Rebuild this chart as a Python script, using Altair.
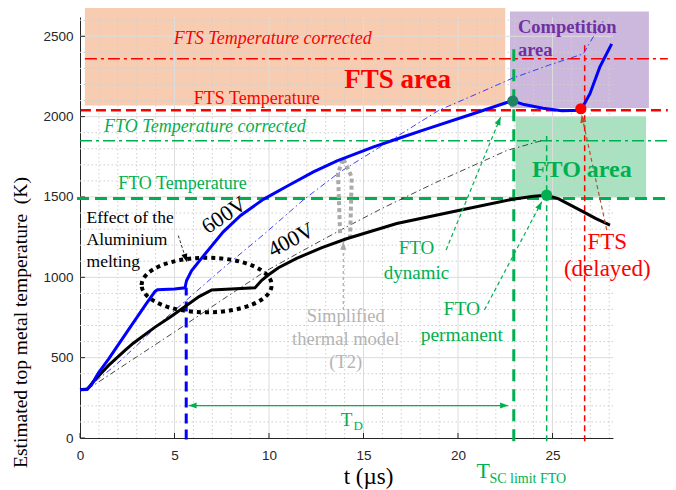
import math
import altair as alt
import pandas as pd

# ---------------- data ----------------
# 600 V measured-based estimate (blue)
t_600 = [0.0, 0.35, 0.6, 0.97, 1.5, 2.56, 3.5, 3.97, 4.1, 5.0, 5.56, 5.6, 5.64, 5.9, 6.35, 7.58, 8.5,
         9.7, 11.0, 12.35, 13.6, 15.5, 17.0, 18.2, 20.8, 22.58, 22.9, 23.5, 24.5, 25.5, 26.5, 26.98, 27.5, 28.13]
T_600 = [300, 302, 330, 404, 490, 673, 835, 912, 922, 928, 935, 960, 980, 1040, 1107, 1283, 1385,
         1485, 1570, 1656, 1725, 1810, 1870, 1918, 2018, 2088, 2097, 2075, 2052, 2036, 2040, 2143, 2308, 2453]
# 400 V (black)
t_400 = [0.0, 0.4, 0.79, 1.5, 2.38, 2.82, 3.97, 4.8, 5.56, 6.3, 6.97, 8.0, 9.26, 9.6, 9.96, 10.5, 11.46,
         12.8, 14.1, 16.76, 20.28, 22.89, 24.0, 24.69, 25.3, 26.46, 27.3, 28.04]
T_400 = [300, 305, 362, 450, 545, 590, 690, 755, 818, 880, 921, 928, 935, 980, 1014, 1060, 1118,
         1185, 1240, 1335, 1422, 1486, 1505, 1511, 1490, 1418, 1365, 1325]
# simplified thermal model (T2), thin dash-dot
t_600s = [0.3, 1.0, 1.85, 3.0, 4.23, 5.64, 7.5, 9.7, 11.8, 13.76, 16.4, 19.0, 21.16, 22.9, 24.8, 26.63, 27.25, 27.7]
T_600s = [300, 370, 450, 575, 715, 859, 1050, 1265, 1480, 1656, 1850, 2040, 2150, 2240, 2320, 2391, 2515, 2597]
t_400s = [0.4, 1.0, 3.0, 5.03, 7.4, 9.7, 12.0, 14.1, 16.0, 19.0, 22.6, 24.5]
T_400s = [305, 350, 505, 662, 850, 1030, 1180, 1314, 1430, 1600, 1790, 1853]

# axis ticks
x_ticks = [0, 5, 10, 15, 20, 25]
y_ticks = [0, 500, 1000, 1500, 2000, 2500]
x_minor = [v for v in range(1, 29) if v % 5]
y_minor = [v for v in range(100, 2700, 100) if v % 500]

# threshold temperatures (K)
fts_corrected = 2360
fts_temperature = 2040
fto_corrected = 1850
fto_temperature = 1490

# characteristic times (us)
t_melt = 5.62
t_sc_limit = 22.95
t_fto_perm = 24.69
t_fts_delayed = 26.7

# marked points
dot_fto_dyn = (22.9, 2097)
dot_fto_perm = (24.69, 1511)
dot_fts = (26.5, 2049)

# shaded areas (t0, t1, T0, T1)
area_fts = (0.26, 22.5, 2070, 2678)
area_comp = (22.75, 30.1, 2053, 2654)
area_fto = (23.05, 29.95, 1497, 2002)

# annotation arrows (tail -> head)
arr_fto_dyn_t, arr_fto_dyn_T = [19.37, 22.25], [1170, 1997]
arr_fto_perm_t, arr_fto_perm_T = [21.4, 24.43], [797, 1470]
arr_fts_t, arr_fts_T = [27.87, 26.54], [1294, 2012]
arr_simp_t, arr_simp_T = [13.93, 13.93], [797, 1221]
arr_al_t, arr_al_T = [5.2, 5.65], [1260, 1097]
arr_td_t, arr_td_T = [5.75, 22.65], [202, 202]
loop_t = [13.76, 13.65, 13.92, 14.38, 14.29]
loop_T = [1275, 1648, 1741, 1623, 1252]
ellipse_center = (6.7, 952)

# ---------------- chart ----------------
W, H = 533, 421
XMAX, YMAX = 28.2, 2620
XEND = 31.1
PXT, PXY = W / XMAX, H / YMAX
SERIF = "Liberation Serif"
SANS = "Liberation Sans"
GREEN = "#00b050"
RED = "#ff0000"
GREY = "#262626"

xs = alt.Scale(domain=[0, XMAX], nice=False, zero=False)
ys = alt.Scale(domain=[0, YMAX], nice=False, zero=False)
axis_common = dict(grid=False, ticks=False, domainColor=GREY, domainWidth=1, labelFont=SANS,
                   labelFontSize=13.5, labelColor=GREY, titleFont=SERIF, titleFontWeight="normal",
                   titleColor="black", titleAlign="center", titleBaseline="middle", format="d")
AX = alt.Axis(values=x_ticks, title="t (µs)", titleFontSize=23, titleX=288, titleY=38,
              labelPadding=10, labelFlush=False, **axis_common)
AY = alt.Axis(values=y_ticks, title="Estimated top metal temperature\u00a0 (K)", titleFontSize=19.5,
              titleX=-60, titleY=305, labelPadding=7, **axis_common)
X = alt.X("t:Q", scale=xs, axis=AX)
Y = alt.Y("T:Q", scale=ys, axis=AY)


def line(ts, Ts, **kw):
    df = pd.DataFrame({"t": ts, "T": Ts, "i": list(range(len(ts)))})
    return alt.Chart(df).mark_line(strokeCap="butt", **kw).encode(x=X, y=Y, order="i:Q")


def text(t, T, s, color, size, **kw):
    df = pd.DataFrame({"t": [t], "T": [T], "s": [s]})
    return alt.Chart(df).mark_text(font=SERIF, fontSize=size, color=color, baseline="middle", **kw).encode(
        x=X, y=Y, text="s:N")


def rect(a, color):
    df = pd.DataFrame({"t": [a[0]], "t2": [a[1]], "T": [a[2]], "T2": [a[3]]})
    return alt.Chart(df).mark_rect(color=color, opacity=0.8).encode(x=X, x2="t2:Q", y=Y, y2="T2:Q")


ARROW = "M0,0 L0.5,1.3 L-0.5,1.3 Z"


def arrow(ts, Ts, color, dash=None, width=1.2, both=False):
    kw = {"strokeDash": dash} if dash else {}
    layers = [line(ts, Ts, color=color, strokeWidth=width, **kw)]
    ang = math.degrees(math.atan2((ts[1] - ts[0]) * PXT, (Ts[1] - Ts[0]) * PXY)) % 360
    heads = [(ts[1], Ts[1], ang)]
    if both:
        heads.append((ts[0], Ts[0], (ang + 180) % 360))
    for (ht, hT, a) in heads:
        df = pd.DataFrame({"t": [ht], "T": [hT]})
        layers.append(alt.Chart(df).mark_point(shape=ARROW, filled=True, size=150, angle=a,
                                               color=color, opacity=1).encode(x=X, y=Y))
    return layers


def dot(p, color):
    df = pd.DataFrame({"t": [p[0]], "T": [p[1]]})
    return alt.Chart(df).mark_point(filled=True, size=125, color=color, opacity=1).encode(x=X, y=Y)


layers = []
# shaded areas
layers += [rect(area_fts, "#f6bf9c"), rect(area_comp, "#bfa6d4"), rect(area_fto, "#95dbb1")]

# grid
layers.append(alt.Chart(pd.DataFrame({"t": x_minor})).mark_rule(color="#cfcfcf", strokeWidth=1,
                                                               strokeDash=[1.5, 2.5]).encode(x=X))
layers.append(alt.Chart(pd.DataFrame({"T": y_minor})).mark_rule(color="#cfcfcf", strokeWidth=1,
                                                               strokeDash=[1.5, 2.5]).encode(y=Y))
layers.append(alt.Chart(pd.DataFrame({"t": x_ticks[1:]})).mark_rule(color="#dcdcdc", strokeWidth=1).encode(x=X))
layers.append(alt.Chart(pd.DataFrame({"T": y_ticks[1:]})).mark_rule(color="#dcdcdc", strokeWidth=1).encode(y=Y))

# inward ticks
layers.append(alt.Chart(pd.DataFrame({"t": x_ticks})).mark_rule(color=GREY).encode(
    x=X, y=alt.value(H), y2=alt.value(H - 5)))
layers.append(alt.Chart(pd.DataFrame({"T": y_ticks})).mark_rule(color=GREY).encode(
    y=Y, x=alt.value(0), x2=alt.value(5)))

# threshold lines
layers.append(line([0.26, XEND], [fts_corrected] * 2, color=RED, strokeWidth=1.5, strokeDash=[12, 4, 3, 4]))
layers.append(line([0.05, XEND], [fts_temperature] * 2, color=RED, strokeWidth=2.5, strokeDash=[10, 5]))
layers.append(line([0.0, XEND], [fto_corrected] * 2, color=GREEN, strokeWidth=1.5, strokeDash=[12, 4, 3, 4]))
layers.append(line([-0.16, XEND], [fto_temperature] * 2, color=GREEN, strokeWidth=3, strokeDash=[12, 6]))

# vertical lines
layers.append(line([t_melt] * 2, [-10, 935], color="#0000ff", strokeWidth=3, strokeDash=[10, 6]))
layers.append(line([t_sc_limit] * 2, [-20, 2450], color=GREEN, strokeWidth=3, strokeDash=[12, 8]))
layers.append(line([t_fto_perm] * 2, [-20, 1880], color=GREEN, strokeWidth=1.5, strokeDash=[6, 4]))
layers.append(line([t_fts_delayed] * 2, [-20, 2460], color=RED, strokeWidth=1.5, strokeDash=[6, 4]))

# simplified model curves
layers.append(line(t_600s, T_600s, color="#2a2aff", strokeWidth=0.9, strokeDash=[6, 3, 1.5, 3]))
layers.append(line(t_400s, T_400s, color="#333333", strokeWidth=0.9, strokeDash=[6, 3, 1.5, 3]))

# ellipse (aluminium melting) and grey loop
ELLIPSE = ("M-1,0 C-1,-0.232 -0.552,-0.42 0,-0.42 C0.552,-0.42 1,-0.232 1,0 "
           "C1,0.232 0.552,0.42 0,0.42 C-0.552,0.42 -1,0.232 -1,0 Z")
layers.append(alt.Chart(pd.DataFrame({"t": [ellipse_center[0]], "T": [ellipse_center[1]]})).mark_point(
    shape=ELLIPSE, filled=False, size=130 * 130, stroke="black", strokeWidth=4, strokeDash=[4, 4],
    opacity=1).encode(x=X, y=Y))
layers.append(line(loop_t, loop_T, color="#aaaaaa", strokeWidth=4, strokeDash=[4, 3]))

# main curves
layers.append(line(t_400, T_400, color="black", strokeWidth=3))
layers.append(line(t_600, T_600, color="#0000ff", strokeWidth=3))

# arrows
layers += arrow(arr_fto_dyn_t, arr_fto_dyn_T, GREEN, dash=[4, 3])
layers += arrow(arr_fto_perm_t, arr_fto_perm_T, GREEN, dash=[4, 3])
layers += arrow(arr_fts_t, arr_fts_T, "#b8502c", dash=[4, 3])
layers += arrow(arr_simp_t, arr_simp_T, "#aaaaaa", dash=[3, 3])
layers += arrow(arr_al_t, arr_al_T, "black", dash=[3, 2], width=0.8)
layers += arrow(arr_td_t, arr_td_T, GREEN, width=1.2, both=True)

# dots
layers += [dot(dot_fto_dyn, "#1e8264"), dot(dot_fto_perm, GREEN), dot(dot_fts, RED)]

# texts
layers += [
    text(10.2, 2486, "FTS Temperature corrected", RED, 18, fontStyle="italic"),
    text(16.8, 2230, "FTS area", RED, 27, fontWeight="bold"),
    text(9.35, 2107, "FTS Temperature", RED, 18),
    text(6.61, 1934, "FTO Temperature corrected", GREEN, 18, fontStyle="italic"),
    text(5.42, 1580, "FTO Temperature", GREEN, 18),
    text(23.17, 2560, "Competition", "#7030a0", 18.5, fontWeight="bold", align="left"),
    text(23.17, 2417, "area", "#7030a0", 18.5, fontWeight="bold", align="left"),
    text(26.55, 1666, "FTO area", GREEN, 24, fontWeight="bold"),
    text(0.35, 1370, "Effect of the", "black", 17.5, align="left"),
    text(0.35, 1230, "Aluminium", "black", 17.5, align="left"),
    text(0.35, 1095, "melting", "black", 17.5, align="left"),
    text(7.62, 1387, "600V", "black", 22, angle=326),
    text(11.16, 1233, "400V", "black", 22, angle=332),
    text(17.8, 1184, "FTO", GREEN, 19),
    text(17.8, 1029, "dynamic", GREEN, 19),
    text(20.2, 805, "FTO", GREEN, 19.5),
    text(20.2, 643, "permanent", GREEN, 19.5),
    text(27.9, 1221, "FTS", RED, 23),
    text(27.9, 1054, "(delayed)", RED, 23),
    text(14.06, 757, "Simplified", "#b4b4b4", 18.5),
    text(14.06, 616, "thermal model", "#b4b4b4", 18.5),
    text(14.06, 470, "(T2)", "#b4b4b4", 18.5),
    text(14.1, 114, "T", GREEN, 19),
    text(14.72, 72, "D", GREEN, 13),
    text(21.34, -207, "T", GREEN, 22),
    text(21.66, -255, "SC limit FTO", GREEN, 14, align="left"),
]

chart = alt.layer(*layers).properties(
    width=W, height=H,
    autosize=alt.AutoSizeParams(type="none"),
    padding={"left": 72, "top": 9, "right": 55, "bottom": 52},
).configure_view(stroke=None)

chart.save("out.html", embed_options={"renderer": "svg", "actions": False})
